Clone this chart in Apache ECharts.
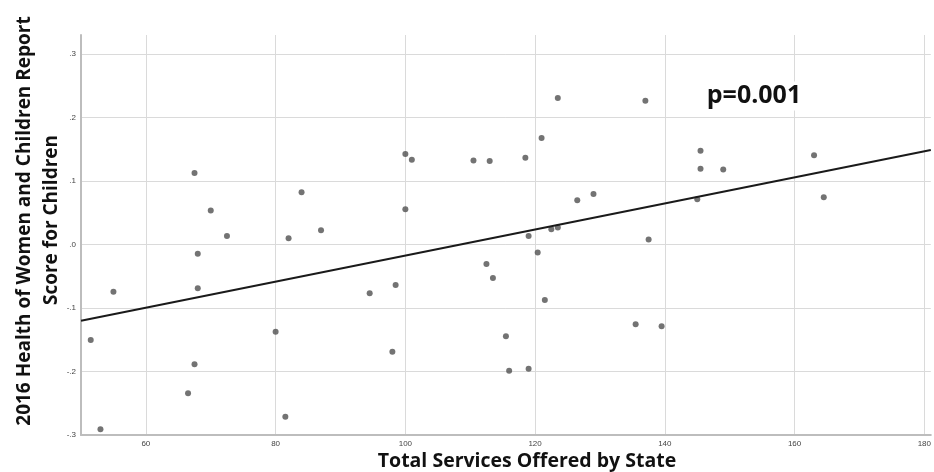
<!DOCTYPE html>
<html>
<head>
<meta charset="utf-8">
<title>Services vs Health Score</title>
<script src="https://cdn.jsdelivr.net/npm/echarts@6/dist/echarts.min.js"></script>
<style>
  html, body { margin: 0; padding: 0; background: #fff; }
  #chart { width: 934px; height: 472px; }
</style>
</head>
<body>
<div id="chart"></div>
<script>
// total services offered by state (x) and health score for children (y)
const servicesX = [
  67.5, 70.0, 72.5, 84.0, 82.0, 87.0, 68.0, 55.0, 68.0, 51.5,
  80.0, 67.5, 66.5, 81.5, 53.0, 100.0, 101.0, 100.0, 110.5, 113.0,
  118.5, 121.0, 123.5, 126.5, 129.0, 119.0, 122.5, 123.5, 120.4, 112.5,
  113.5, 98.5, 94.5, 121.5, 135.5, 115.5, 98.0, 116.0, 119.0, 137.0,
  145.5, 145.5, 149.0, 145.0, 163.0, 164.5, 137.5, 139.5
];
const scoreY = [
  0.1125, 0.0535, 0.0136, 0.0825, 0.0097, 0.0223, -0.0147, -0.0742, -0.0688, -0.1503,
  -0.1372, -0.1886, -0.2343, -0.2712, -0.2910, 0.1424, 0.1334, 0.0557, 0.1323, 0.1314,
  0.1366, 0.1676, 0.2307, 0.0699, 0.0794, 0.0136, 0.0242, 0.0267, -0.0127, -0.0305,
  -0.0526, -0.0636, -0.0767, -0.0872, -0.1255, -0.1444, -0.1687, -0.1987, -0.1955, 0.2264,
  0.1476, 0.1192, 0.1181, 0.0715, 0.1408, 0.0746, 0.0081, -0.1287
];
// fit line ends
const fitX = [50, 181];
const fitY = [-0.12, 0.149];

const titleFont = '"Open Sans", "Noto Sans", sans-serif';

const chart = echarts.init(document.getElementById('chart'));

const option = {
  animation: false,
  grid: { left: 81, right: 1, top: 35, bottom: 37, containLabel: false },
  xAxis: {
    type: 'value',
    min: 50,
    max: 181,
    minInterval: 20,
    maxInterval: 20,
    axisLine: { show: true, onZero: false, lineStyle: { color: '#bdbdbd', width: 2 } },
    axisTick: { show: false },
    axisLabel: {
      show: true, showMinLabel: false, showMaxLabel: false,
      color: '#444', fontSize: 8, margin: 5, fontFamily: 'Arial, "Liberation Sans", sans-serif'
    },
    splitLine: { show: true, showMinLine: false, showMaxLine: false, lineStyle: { color: '#dadada', width: 1 } }
  },
  yAxis: {
    type: 'value',
    min: -0.3,
    max: 0.33,
    interval: 0.1,
    axisLine: { show: true, onZero: false, lineStyle: { color: '#bdbdbd', width: 2 } },
    axisTick: { show: false },
    axisLabel: {
      showMaxLabel: false,
      color: '#444', fontSize: 8, margin: 5, fontFamily: 'Arial, "Liberation Sans", sans-serif',
      formatter: function (v) {
        return v.toFixed(1).replace('0.', '.');
      }
    },
    splitLine: { show: true, showMinLine: false, showMaxLine: false, lineStyle: { color: '#dadada', width: 1 } }
  },
  series: [
    {
      type: 'scatter',
      data: servicesX.map((x, i) => [x, scoreY[i]]),
      symbol: 'circle',
      symbolSize: 6,
      itemStyle: { color: '#505050' },
      z: 3
    },
    {
      type: 'line',
      data: fitX.map((x, i) => [x, fitY[i]]),
      showSymbol: false,
      symbol: 'none',
      lineStyle: { color: '#1a1a1a', width: 2 },
      z: 4
    }
  ],
  graphic: [
    {
      type: 'text', x: 25, y: 221, rotation: Math.PI / 2,
      style: {
        text: '2016 Health of Women and Children Report',
        font: 'bold 19px ' + titleFont, fill: '#111',
        textAlign: 'center', textVerticalAlign: 'middle', align: 'center', verticalAlign: 'middle'
      }
    },
    {
      type: 'text', x: 52, y: 220, rotation: Math.PI / 2,
      style: {
        text: 'Score for Children',
        font: 'bold 19px ' + titleFont, fill: '#111',
        textAlign: 'center', textVerticalAlign: 'middle', align: 'center', verticalAlign: 'middle'
      }
    },
    {
      type: 'text', x: 527, y: 461,
      style: {
        text: 'Total Services Offered by State',
        font: 'bold 19.5px ' + titleFont, fill: '#111',
        textAlign: 'center', textVerticalAlign: 'middle', align: 'center', verticalAlign: 'middle'
      }
    },
    {
      type: 'text', x: 754, y: 96, z: 10,
      style: {
        text: 'p=0.001',
        font: 'bold 25px ' + titleFont, fill: '#111',
        backgroundColor: '#fff', padding: [2, 3, 2, 3],
        textAlign: 'center', textVerticalAlign: 'middle', align: 'center', verticalAlign: 'middle'
      }
    }
  ]
};

chart.setOption(option);
</script>
</body>
</html>
